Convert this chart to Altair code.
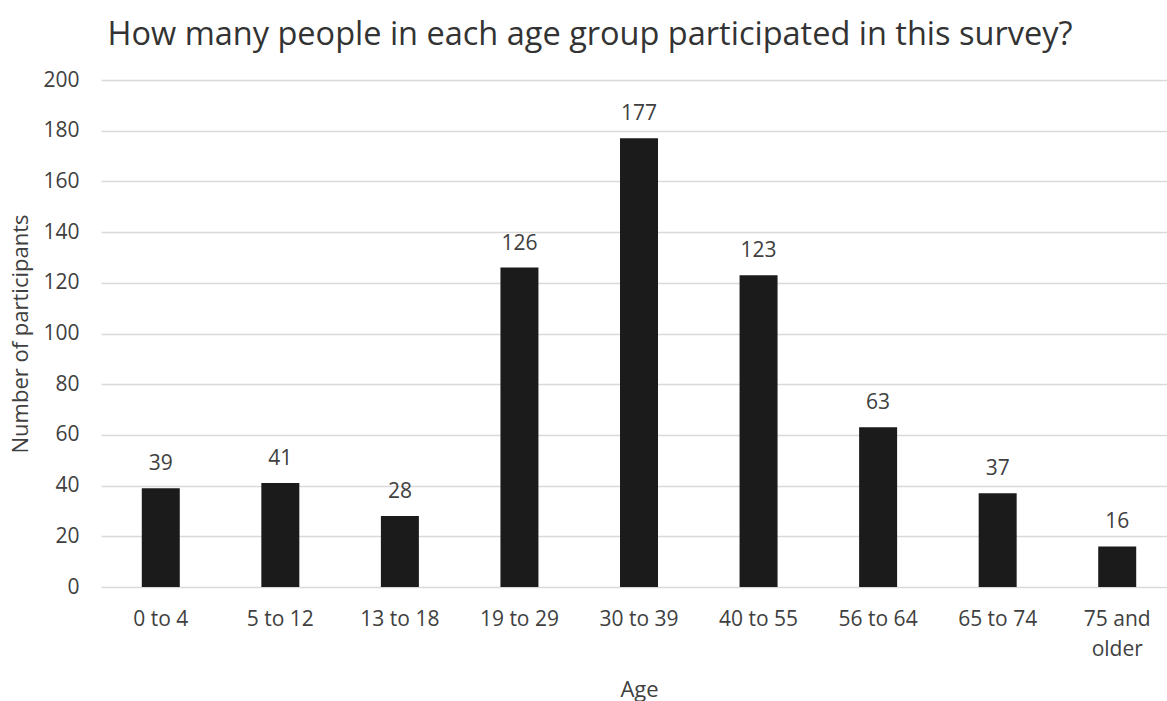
import altair as alt
import pandas as pd

# Survey participants per age group
age_groups = ["0 to 4", "5 to 12", "13 to 18", "19 to 29", "30 to 39",
              "40 to 55", "56 to 64", "65 to 74", "75 and older"]
participants = [39, 41, 28, 126, 177, 123, 63, 37, 16]

df = pd.DataFrame({"Age": age_groups, "Participants": participants})

FONT = "Open Sans"
TEXT = "#404040"
LABEL_SIZE = 21
AXIS_TITLE_SIZE = 22

x_enc = alt.X(
    "Age:N",
    sort=age_groups,
    scale=alt.Scale(range=[0, 1076], paddingInner=0, paddingOuter=0),
    axis=alt.Axis(
        title="Age",
        labelAngle=0,
        labelFont=FONT,
        labelFontSize=LABEL_SIZE,
        labelColor=TEXT,
        labelPadding=21,
        labelLineHeight=30,
        labelExpr="datum.label == '75 and older' ? ['75 and', 'older'] : datum.label",
        ticks=False,
        domain=False,
        titleFont=FONT,
        titleFontSize=AXIS_TITLE_SIZE,
        titleFontWeight="normal",
        titleColor=TEXT,
        titlePadding=20,
    ),
)

y_enc = alt.Y(
    "Participants:Q",
    scale=alt.Scale(domain=[0, 200]),
    axis=alt.Axis(
        title="Number of participants",
        values=list(range(0, 201, 20)),
        labelFont=FONT,
        labelFontSize=LABEL_SIZE,
        labelColor=TEXT,
        labelPadding=22,
        ticks=False,
        domain=False,
        grid=True,
        gridColor="#d9d9d9",
        gridWidth=1.5,
        titleFont=FONT,
        titleFontSize=AXIS_TITLE_SIZE,
        titleFontWeight="normal",
        titleColor=TEXT,
        titlePadding=10,
    ),
)

bars = alt.Chart(df).mark_bar(size=38, color="#1b1b1b").encode(x=x_enc, y=y_enc)

labels = alt.Chart(df).mark_text(
    font=FONT, fontSize=LABEL_SIZE, color=TEXT, baseline="bottom", dy=-14
).encode(
    x=alt.X("Age:N", sort=age_groups),
    y="Participants:Q",
    text="Participants:Q",
)

chart = (
    alt.layer(bars, labels)
    .properties(
        width=1066,
        height=507,
        autosize=alt.AutoSizeParams(type="none"),
        padding={"left": 101, "top": 80, "right": 0, "bottom": 114},
        title=alt.TitleParams(
            "How many people in each age group participated in this survey?",
            font=FONT,
            fontSize=32.5,
            fontWeight="normal",
            color="#333333",
            anchor="middle",
            dx=-44,
            offset=18,
        ),
    )
    .configure_view(stroke=None)
)

chart.save("out.html", embed_options={"renderer": "svg", "actions": False})
